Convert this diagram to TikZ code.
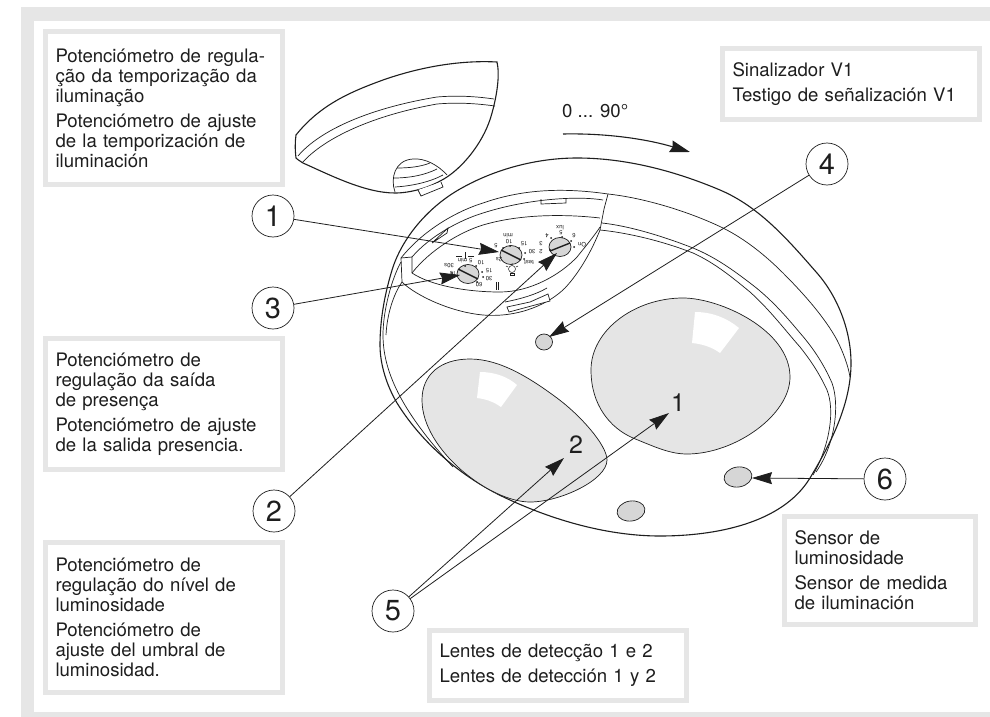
\documentclass[tikz,border=0pt]{standalone}
\usepackage{fontspec}
\setmainfont{TeX Gyre Heros}
\usetikzlibrary{arrows.meta}
\definecolor{framegray}{HTML}{E6E6E6}
\definecolor{lensgray}{HTML}{E5E5E5}
\definecolor{dotgray}{HTML}{D6D6D6}
\definecolor{ink}{HTML}{1E1E1E}
\tikzset{
  infobox/.style={draw=framegray,line width=5pt,fill=white,text=ink,align=left,inner xsep=10pt,inner ysep=0pt,
    font=\fontsize{18.6}{20}\selectfont},
  callout/.style={circle,draw=ink,line width=0.7pt,minimum size=42pt,inner sep=0pt,fill=white,text=ink,font=\fontsize{29}{29}\selectfont},
  leader/.style={draw=ink,line width=0.8pt,-{Stealth[length=20pt,width=12pt,inset=2pt]}},
  contour/.style={draw=ink,line width=0.7pt},
  heavy/.style={draw=ink,line width=1.1pt},
  lens/.style={draw=ink,line width=0.7pt,fill=lensgray},
  spark/.style={fill=white,draw=none},
  dial/.style={draw=ink,line width=0.7pt,fill=dotgray},
  dialbar/.style={draw=ink,line width=1.4pt},
  tiny/.style={inner sep=0pt,rotate=180,text=ink,font=\fontsize{6}{6}\selectfont},
  lenslabel/.style={inner sep=0pt,text=ink,font=\fontsize{25}{25}\selectfont}
}
\begin{document}
\begin{tikzpicture}[x=1pt,y=-1pt]
\useasboundingbox (0,0) rectangle (990,717);
\fill[white] (0,0) rectangle (990,717);
% frame
\fill[framegray] (21,7) rectangle (990,21);
\fill[framegray] (21,7) rectangle (34,717);
\fill[framegray] (21,712) rectangle (990,717);
% cover
\filldraw[heavy,fill=white] (296,135) .. controls (320,105) and (350,92) .. (383,80) .. controls (420,67) and (460,60) .. (497,62) .. controls (500,75) and (497,95) .. (492,113) .. controls (485,140) and (465,165) .. (447,177) .. controls (430,188) and (410,193) .. (395,193) .. controls (365,193) and (330,175) .. (303,163) .. controls (298,160) and (296,158) .. (296,158) .. controls (295,150) and (295,142) .. (296,135) -- cycle;
\draw[contour] (298,156) .. controls (320,130) and (370,108) .. (437,97) .. controls (460,95) and (480,97) .. (494,99);
\draw[contour] (302,163) .. controls (325,137) and (375,115) .. (437,104) .. controls (460,102) and (480,104) .. (495,106);
\draw[contour] (395,192) .. controls (390,178) and (395,160) .. (413,159) .. controls (425,158) and (438,165) .. (447,175);
\draw[contour] (397,168) .. controls (408,168) and (420,167) .. (430,163);
\draw[contour] (394,178) .. controls (410,178) and (425,175) .. (437,169);
\draw[contour] (395,187) .. controls (412,186) and (430,182) .. (443,175);
\filldraw[contour,fill=white] (418,190) -- (421,196) -- (443,187) -- (441,182);
% dome
\filldraw[heavy,fill=white] (577,158) .. controls (626,158) and (675,171) .. (720,190) .. controls (760,207) and (789,241) .. (817,273) .. controls (838,297) and (851,331) .. (851,363) .. controls (851,404) and (831,443) .. (810,478) .. controls (782,524) and (714,536) .. (660,536) .. controls (609,536) and (556,521) .. (510,500) .. controls (465,480) and (423,445) .. (397,403) .. controls (387,386) and (380,365) .. (380,345) .. controls (380,319) and (385,292) .. (393,267) .. controls (404,235) and (430,206) .. (460,189) .. controls (495,169) and (537,158) .. (577,158) -- cycle;
% rim lines, right side
\draw[contour] (608,194) .. controls (645,198) and (690,212) .. (723,228) .. controls (745,239) and (765,255) .. (783,273) .. controls (805,295) and (825,318) .. (837,340) .. controls (843,352) and (848,365) .. (850,377);
\draw[contour] (602,223) .. controls (630,226) and (665,237) .. (693,248) .. controls (715,257) and (733,270) .. (750,283) .. controls (770,298) and (785,315) .. (800,333) .. controls (815,350) and (825,367) .. (832,383) .. controls (840,405) and (835,445) .. (816,472);
\draw[contour] (600,230) .. controls (630,233) and (665,242) .. (693,253) .. controls (715,263) and (733,278) .. (750,292) .. controls (770,310) and (785,330) .. (800,347) .. controls (812,362) and (820,375) .. (827,390) .. controls (835,410) and (830,445) .. (813,475);
% recess arcs
\draw[contour] (608,194) .. controls (560,187) and (520,190) .. (483,203) .. controls (460,210) and (425,228) .. (401,258);
\draw[contour] (603,200) .. controls (580,196) and (530,198) .. (483,213) .. controls (460,220) and (430,236) .. (412,257);
\draw[contour] (600,218) .. controls (565,214) and (520,214) .. (483,225) .. controls (460,232) and (430,250) .. (412,273);
\draw[contour] (401,258) -- (412,257) -- (412,273);
\draw[contour] (401,258) -- (402,282);
\draw[contour] (608,194) -- (604,209) -- (600,230);
% left rim
\draw[contour] (401,262) .. controls (392,278) and (383,310) .. (383,335) .. controls (383,370) and (400,410) .. (453,467);
\draw[contour] (402,282) .. controls (393,295) and (387,315) .. (386,335);
% recess lower edges
\draw[contour] (402,282) .. controls (415,295) and (450,312) .. (483,315) .. controls (520,318) and (550,303) .. (565,288) .. controls (580,272) and (592,250) .. (600,230);
\draw[contour] (412,273) .. controls (430,285) and (465,292) .. (500,292) .. controls (530,292) and (560,275) .. (577,257) .. controls (585,247) and (595,235) .. (600,227);
% tabs
\draw[contour] (541,199) -- (541,204) -- (566,203) -- (566,198);
\draw[contour] (432,243) -- (448,228) -- (447,233) -- (432,243);
\draw[contour] (505,302) .. controls (520,299) and (535,295) .. (547,288);
\filldraw[contour,fill=white] (507,307) -- (509,312) -- (550,301) -- (548,294) -- (530,302) -- cycle;
% dials
\draw[dial] (511,255) ellipse [x radius=11,y radius=9.5];
\draw[dialbar] (501,250) -- (521,260);
\draw[dial] (560,247) ellipse [x radius=11,y radius=9.5];
\draw[dialbar] (550,251) -- (570,243);
\draw[dial] (468,274) ellipse [x radius=11,y radius=9.5];
\draw[dialbar] (458,269) -- (478,279);
% dial ticks
\fill[ink] (551,238) circle (1) (562,237) circle (1) (571,241) circle (1) (574,247) circle (1) (550,250) circle (1)
  (503,248) circle (1) (510,246) circle (1) (519,248) circle (1) (525,253) circle (1) (524,259) circle (1)
  (452,273) circle (1) (465,266) circle (1) (476,266) circle (1) (482,272) circle (1) (483,277) circle (1) (477,282) circle (1);
% dial texts
\node[tiny] (lux) at (560,228) {lux};
\node[tiny] (l6) at (574,236) {6};
\node[tiny] (l5) at (561,233) {5};
\node[tiny] (l4) at (547,236) {4};
\node[tiny] (l3) at (541,244) {3};
\node[tiny] (l2) at (541,252) {2};
\node[tiny] (lon) at (582,245) {On};
\node[tiny] (tmin) at (508,236) {min};
\node[tiny] (t10) at (509,242) {10};
\node[tiny] (t15) at (524,244) {15};
\node[tiny] (t5) at (496,246) {5};
\node[tiny] (t30) at (532,252) {30};
\node[tiny] (ttest) at (529,262) {test};
\node[tiny] (t2s) at (499,260) {2s};
\node[tiny] (p5) at (465,261) {5 min};
\node[tiny] (p30s) at (449,266) {30s};
\node[tiny] (p10) at (481,263) {10};
\node[tiny] (p15) at (489,271) {15};
\node[tiny] (p30) at (489,279) {30};
\node[tiny] (p60) at (479,285) {60};
\node[tiny] (p1s) at (453,274) {1s};
% dial symbols
\draw[contour,line width=0.5pt] (512,269) circle (3.5);
\draw[contour,line width=0.5pt] (510,273) -- (514,273) -- (514,275) -- (510,275) -- cycle;
\draw[contour,line width=0.5pt] (506,266) -- (508,267) (518,266) -- (516,267) (512,263) -- (512,265);
\draw[contour,line width=0.8pt] (496,282) -- (496,290) (498,282) -- (498,290);
\draw[contour,line width=0.5pt] (456,256) -- (462,256) (474,256) -- (468,256) (465,252) -- (465,259);
% lenses
\filldraw[lens] (683,298) .. controls (720,298) and (790,330) .. (790,377) .. controls (790,415) and (735,454) .. (687,454) .. controls (670,454) and (655,447) .. (633,438) .. controls (610,428) and (591,405) .. (591,370) .. controls (591,330) and (635,298) .. (683,298) -- cycle;
\fill[spark] (695,312) .. controls (712,312) and (727,318) .. (739,328) -- (720,353) .. controls (712,347) and (702,344) .. (692,343) -- cycle;
\filldraw[lens] (470,359) .. controls (500,359) and (530,378) .. (557,398) .. controls (580,415) and (607,445) .. (607,460) .. controls (607,480) and (560,502) .. (530,502) .. controls (490,502) and (422,450) .. (422,400) .. controls (422,375) and (440,359) .. (470,359) -- cycle;
\fill[spark] (480,372) .. controls (495,372) and (508,377) .. (517,385) -- (501,407) .. controls (494,402) and (486,399) .. (477,398) -- cycle;
% small lenses
\draw[dial] (544,342) ellipse [x radius=8.5,y radius=8];
\draw[dial,rotate around={10:(631,511)}] (631,511) ellipse [x radius=14,y radius=10];
\draw[dial,rotate around={10:(738,477)}] (738,477) ellipse [x radius=14,y radius=10];
% info boxes
\node[infobox,minimum width=237pt,minimum height=153pt,text width=217pt] (boxa) at (164,108) {Potenciómetro de regula-\\ção da temporização da\\iluminação\\[5pt]Potenciómetro de ajuste\\de la temporización de\\iluminación};
\node[infobox,minimum width=237pt,minimum height=131pt,text width=217pt] (boxb) at (164,404) {Potenciómetro de\\regulação da saída\\de presença\\[5pt]Potenciómetro de ajuste\\de la salida presencia.};
\node[infobox,minimum width=237pt,minimum height=150pt,text width=217pt] (boxc) at (164,617.5) {Potenciómetro de\\regulação do nível de\\luminosidade\\[5pt]Potenciómetro de\\ajuste del umbral de\\luminosidad.};
\node[infobox,minimum width=257pt,minimum height=71pt,text width=237pt] (boxd) at (851,84) {Sinalizador V1\\[5pt]Testigo de señalización V1};
\node[infobox,minimum width=191pt,minimum height=108pt,text width=171pt] (boxe) at (880,570.5) {Sensor de\\luminosidade\\[5pt]Sensor de medida\\de iluminación};
\node[infobox,minimum width=257pt,minimum height=70pt,text width=237pt] (boxf) at (558,665.5) {Lentes de detecção 1 e 2\\[5pt]Lentes de detección 1 y 2};
% rotation
\node[inner sep=0pt,text=ink,font=\fontsize{18.6}{20}\selectfont,anchor=west] (angle) at (562,111) {0 ... 90°};
\coordinate (rota) at (563,134);
\coordinate (rotb) at (690,152);
\draw[line width=1.1pt,draw=ink,-{Stealth[length=20pt,width=12pt,inset=2pt]}] (rota) .. controls (610,133) and (650,140) .. (rotb);
% lens labels
\node[lenslabel] (lone) at (678,403) {1};
\node[lenslabel] (ltwo) at (576,445) {2};
% callouts
\node[callout] (n1) at (273,216) {1};
\node[callout] (n3) at (273,308) {3};
\node[callout] (n2) at (274,511) {2};
\node[callout] (n5) at (393,611) {5};
\node[callout] (n4) at (827,164) {4};
\node[callout] (n6) at (885,479) {6};
\coordinate (t1) at (499,252);
\coordinate (t3) at (460,275);
\coordinate (t2) at (557,253);
\coordinate (t4) at (549,337);
\coordinate (t6) at (752,478);
\coordinate (t5a) at (564,458);
\coordinate (t5b) at (669,413);
\draw[leader] (n1) -- (t1);
\draw[leader] (n3) -- (t3);
\draw[leader] (n2) -- (t2);
\draw[leader] (n4) -- (t4);
\draw[leader] (n6) -- (t6);
\draw[leader] (n5) -- (t5a);
\draw[leader] (n5) -- (t5b);
\end{tikzpicture}
\end{document}
